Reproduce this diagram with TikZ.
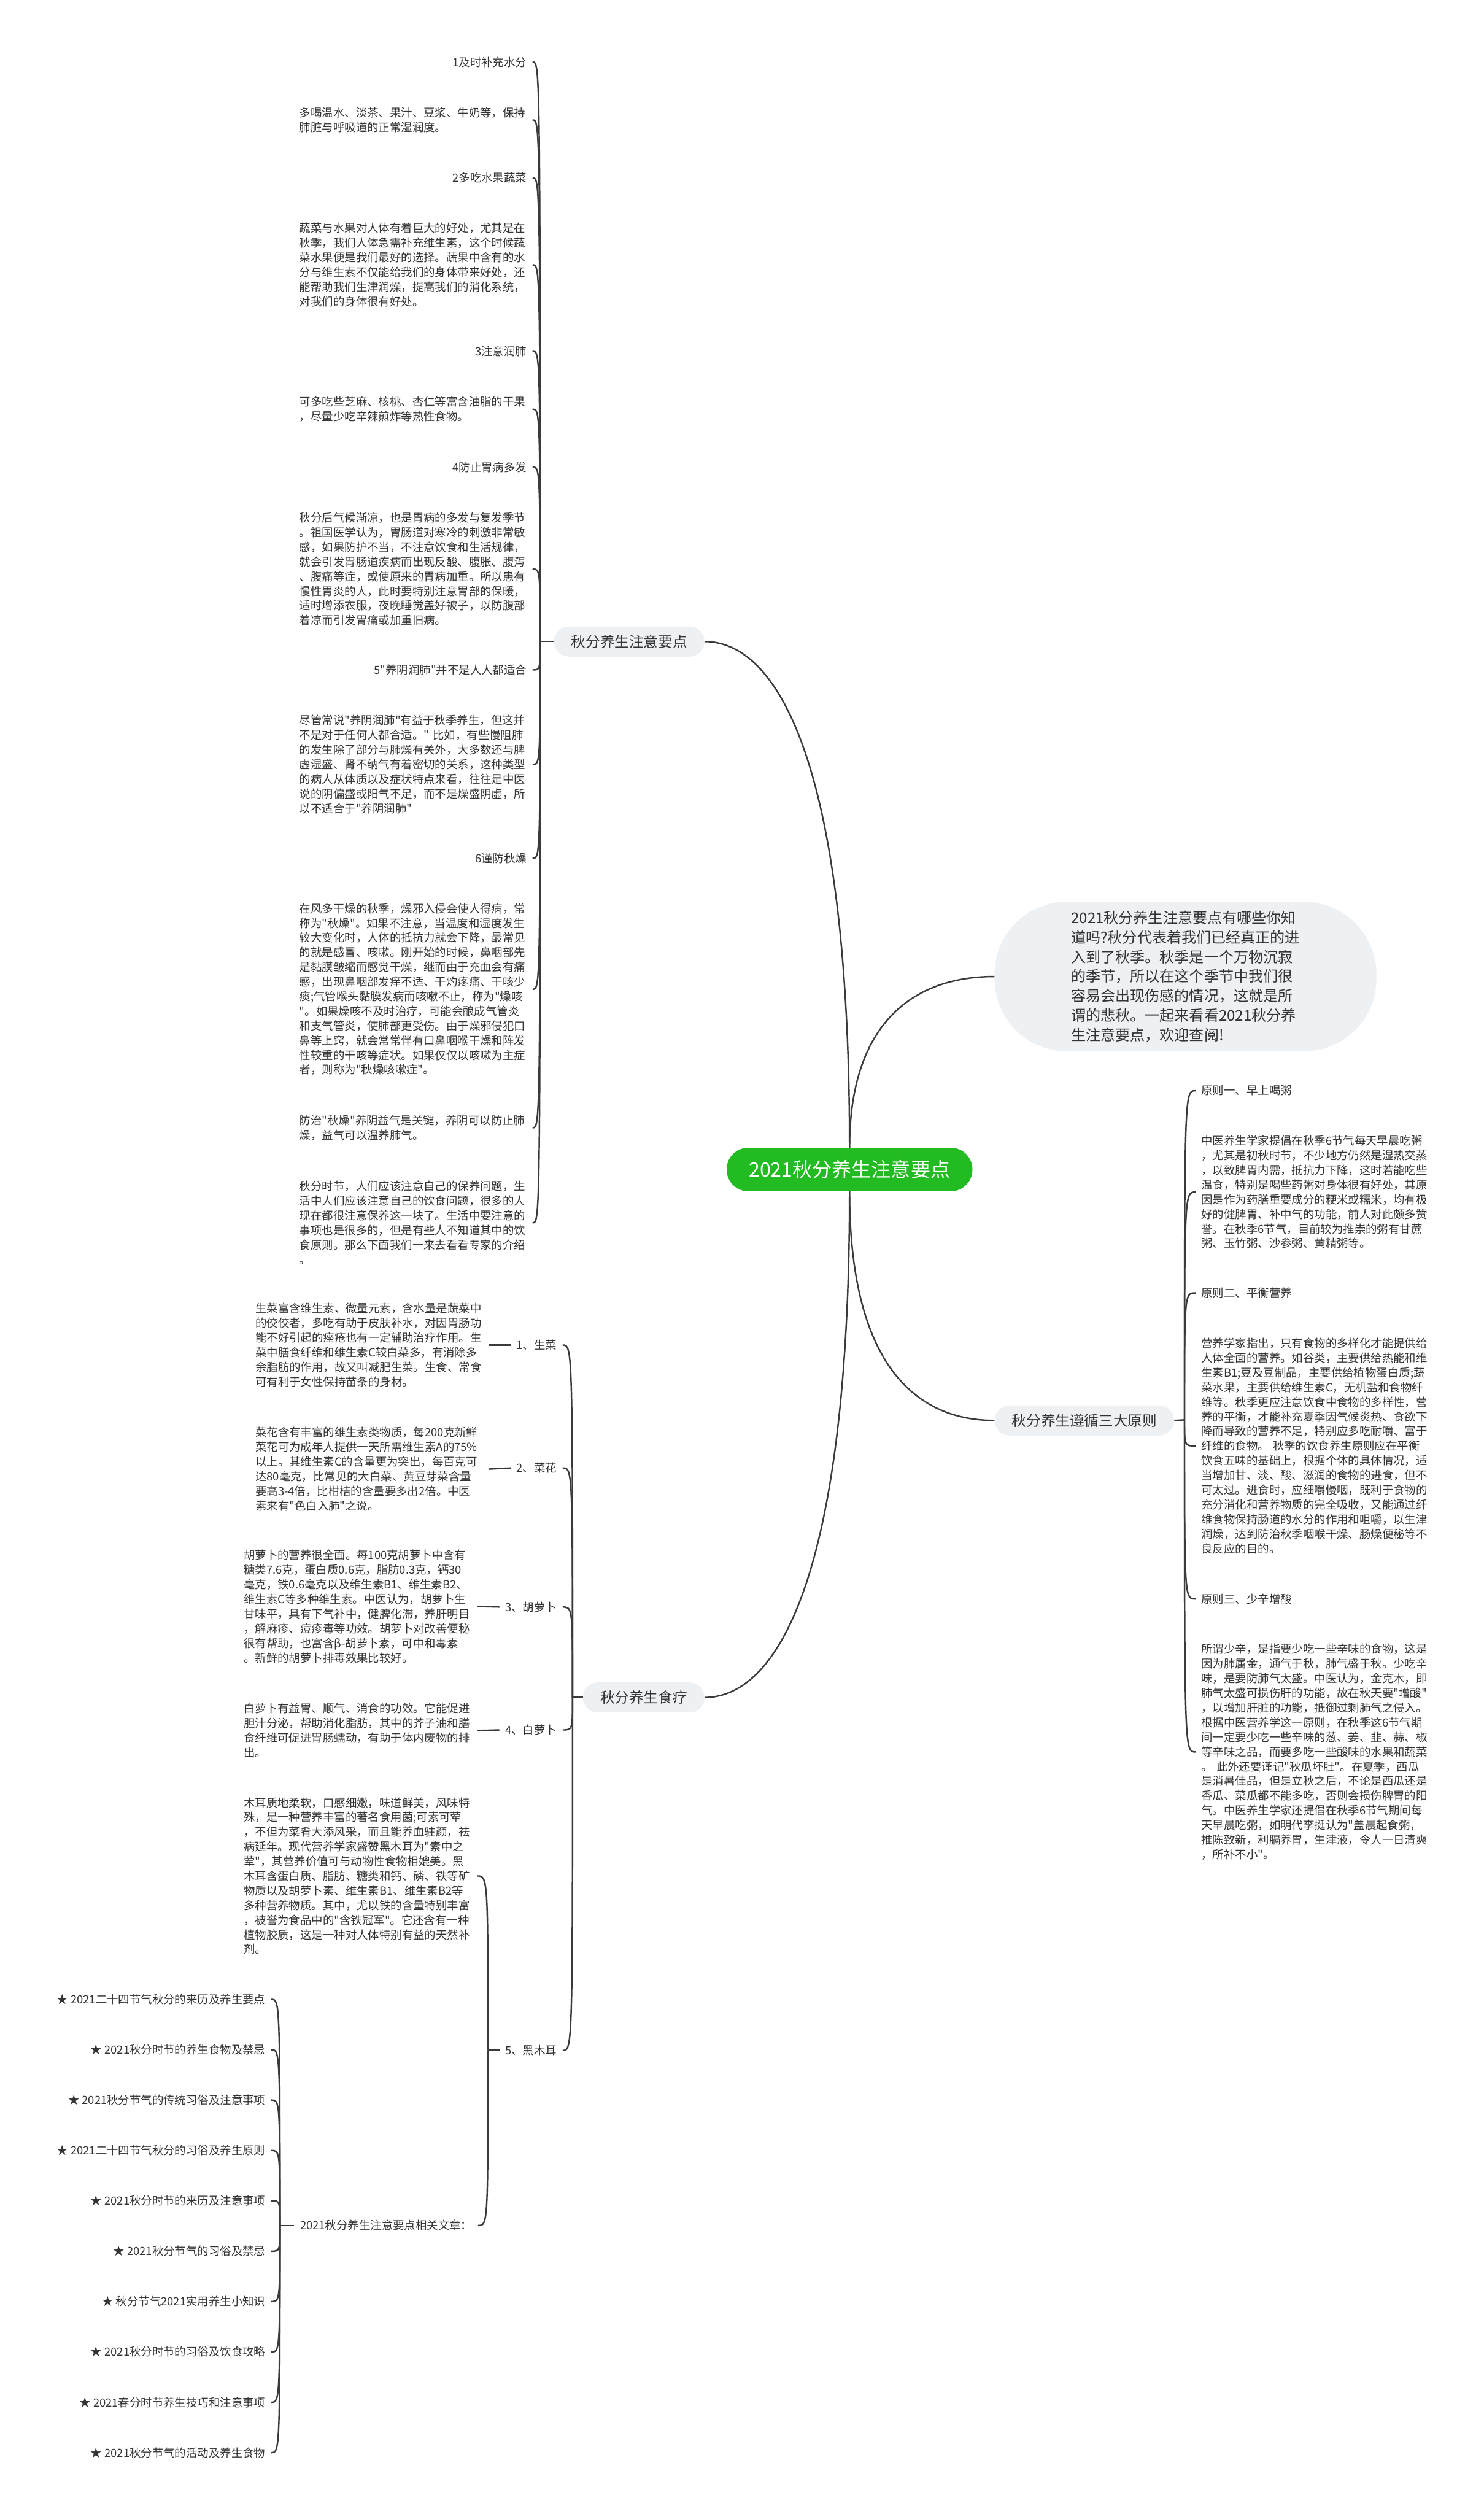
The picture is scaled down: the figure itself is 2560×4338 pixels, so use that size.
\documentclass[tikz,border=0pt]{standalone}
\usepackage{fontspec}
\newfontfamily\cjkfont{Noto Sans CJK SC}
\usepackage{xcolor}
\definecolor{RootGreen}{HTML}{22BC22}
\definecolor{PaleGrayBg}{HTML}{EEF1F4}
\definecolor{InkGray}{HTML}{333333}
\definecolor{LinkGray}{HTML}{3A3A3A}
\usepackage{tikz}
\tikzset{
  mindroot/.style={
    fill=RootGreen,
    text=white,
    rounded corners=37pt,
    minimum width=424pt,
    minimum height=75pt,
    inner sep=0pt,
    font=\cjkfont\fontsize{34pt}{40pt}\selectfont
  },
  mindbranch/.style={
    fill=PaleGrayBg,
    text=InkGray,
    rounded corners=26pt,
    minimum height=52pt,
    inner xsep=30pt,
    font=\cjkfont\fontsize{25pt}{30pt}\selectfont
  },
  mindintro/.style={
    fill=PaleGrayBg,
    text=InkGray,
    rounded corners=125pt,
    minimum width=659pt,
    minimum height=258pt,
    align=left,
    font=\cjkfont\fontsize{25.5pt}{33.8pt}\selectfont
  },
  mindnote/.style={
    text=InkGray,
    text width=392pt,
    align=left,
    inner xsep=10pt,
    inner ysep=4pt,
    font=\cjkfont\fontsize{19.5pt}{25.3pt}\selectfont
  },
  mindlabel/.style={
    text=InkGray,
    inner xsep=10pt,
    inner ysep=4pt,
    font=\cjkfont\fontsize{19.5pt}{25.3pt}\selectfont
  },
  mindline/.style={
    draw=LinkGray,
    line width=2.6pt
  }
}

\begin{document}
\begin{tikzpicture}[x=1pt,y=-1pt]
  \fill[white] (0,0) rectangle (2560,4338);
  \useasboundingbox (0,0) rectangle (2560,4338);
  % centre and first level
  \node[mindroot] (root) at (1466,2018) {2021秋分养生注意要点};
  \node[mindbranch, anchor=east] (care) at (1216,1107) {秋分养生注意要点};
  \node[mindbranch, anchor=east] (diet) at (1216,2929) {秋分养生食疗};
  \node[mindbranch, anchor=west] (rules) at (1716,2451) {秋分养生遵循三大原则};
  \node[mindintro, anchor=west] (intro) at (1716,1685) {2021秋分养生注意要点有哪些你知\\道吗?秋分代表着我们已经真正的进\\入到了秋季。秋季是一个万物沉寂\\的季节，所以在这个季节中我们很\\容易会出现伤感的情况，这就是所\\谓的悲秋。一起来看看2021秋分养\\生注意要点，欢迎查阅!};
  \draw[mindline] (root.north) .. controls +(0,-680) and +(120,0) .. (care.east);
  \draw[mindline] (root.north) .. controls +(0,-220) and +(-135,0) .. (intro.west);
  \draw[mindline] (root.south) .. controls +(0,680) and +(120,0) .. (diet.east);
  \draw[mindline] (root.south) .. controls +(0,300) and +(-135,0) .. (rules.west);

  % left, upper group
  \coordinate (s1) at (932,1107);
  \node[mindlabel, anchor=east] (water) at (919,107) {1及时补充水分};
  \node[mindnote, anchor=east] (waterT) at (919,207) {多喝温水、淡茶、果汁、豆浆、牛奶等，保持\\肺脏与呼吸道的正常湿润度。};
  \node[mindlabel, anchor=east] (fruit) at (919,307) {2多吃水果蔬菜};
  \node[mindnote, anchor=east] (fruitT) at (919,457) {蔬菜与水果对人体有着巨大的好处，尤其是在\\秋季，我们人体急需补充维生素，这个时候蔬\\菜水果便是我们最好的选择。蔬果中含有的水\\分与维生素不仅能给我们的身体带来好处，还\\能帮助我们生津润燥，提高我们的消化系统，\\对我们的身体很有好处。};
  \node[mindlabel, anchor=east] (lung) at (919,606) {3注意润肺};
  \node[mindnote, anchor=east] (lungT) at (919,706) {可多吃些芝麻、核桃、杏仁等富含油脂的干果\\，尽量少吃辛辣煎炸等热性食物。};
  \node[mindlabel, anchor=east] (stomach) at (919,806) {4防止胃病多发};
  \node[mindnote, anchor=east] (stomachT) at (919,982) {秋分后气候渐凉，也是胃病的多发与复发季节\\。祖国医学认为，胃肠道对寒冷的刺激非常敏\\感，如果防护不当，不注意饮食和生活规律，\\就会引发胃肠道疾病而出现反酸、腹胀、腹泻\\、腹痛等症，或使原来的胃病加重。所以患有\\慢性胃炎的人，此时要特别注意胃部的保暖，\\适时增添衣服，夜晚睡觉盖好被子，以防腹部\\着凉而引发胃痛或加重旧病。};
  \node[mindlabel, anchor=east] (yin) at (919,1156) {5"养阴润肺"并不是人人都适合};
  \node[mindnote, anchor=east] (yinT) at (919,1319) {尽管常说"养阴润肺"有益于秋季养生，但这并\\不是对于任何人都合适。"~比如，有些慢阻肺\\的发生除了部分与肺燥有关外，大多数还与脾\\虚湿盛、肾不纳气有着密切的关系，这种类型\\的病人从体质以及症状特点来看，往往是中医\\说的阴偏盛或阳气不足，而不是燥盛阴虚，所\\以不适合于"养阴润肺"};
  \node[mindlabel, anchor=east] (dry) at (919,1481) {6谨防秋燥};
  \node[mindnote, anchor=east] (dryT) at (919,1707) {在风多干燥的秋季，燥邪入侵会使人得病，常\\称为"秋燥"。如果不注意，当温度和湿度发生\\较大变化时，人体的抵抗力就会下降，最常见\\的就是感冒、咳嗽。刚开始的时候，鼻咽部先\\是黏膜皱缩而感觉干燥，继而由于充血会有痛\\感，出现鼻咽部发痒不适、干灼疼痛、干咳少\\痰;气管喉头黏膜发病而咳嗽不止，称为"燥咳\\"。如果燥咳不及时治疗，可能会酿成气管炎\\和支气管炎，使肺部更受伤。由于燥邪侵犯口\\鼻等上窍，就会常常伴有口鼻咽喉干燥和阵发\\性较重的干咳等症状。如果仅仅以咳嗽为主症\\者，则称为"秋燥咳嗽症"。};
  \node[mindnote, anchor=east] (dryKey) at (919,1946) {防治"秋燥"养阴益气是关键，养阴可以防止肺\\燥，益气可以温养肺气。};
  \node[mindnote, anchor=east] (season) at (919,2110) {秋分时节，人们应该注意自己的保养问题，生\\活中人们应该注意自己的饮食问题，很多的人\\现在都很注意保养这一块了。生活中要注意的\\事项也是很多的，但是有些人不知道其中的饮\\食原则。那么下面我们一来去看看专家的介绍\\。};
  \draw[mindline] (care.west) -- (s1);
  \foreach \kid in {water,waterT,fruit,fruitT,lung,lungT,stomach,stomachT,yin,yinT,dry,dryT,dryKey,season}{\draw[mindline] (s1) .. controls (s1 |- \kid.east) .. (\kid.east);}

  % left, lower group
  \coordinate (s2) at (988,2929);
  \node[mindlabel, anchor=east] (lettuce) at (971,2321) {1、生菜};
  \node[mindlabel, anchor=east] (cauli) at (971,2533) {2、菜花};
  \node[mindlabel, anchor=east] (carrot) at (971,2773) {3、胡萝卜};
  \node[mindlabel, anchor=east] (radish) at (971,2985) {4、白萝卜};
  \node[mindlabel, anchor=east] (fungus) at (971,3538) {5、黑木耳};
  \node[mindnote, anchor=east] (lettuceT) at (843,2321) {生菜富含维生素、微量元素，含水量是蔬菜中\\的佼佼者，多吃有助于皮肤补水，对因胃肠功\\能不好引起的痤疮也有一定辅助治疗作用。生\\菜中膳食纤维和维生素C较白菜多，有消除多\\余脂肪的作用，故又叫减肥生菜。生食、常食\\可有利于女性保持苗条的身材。};
  \node[mindnote, anchor=east] (cauliT) at (843,2535) {菜花含有丰富的维生素类物质，每200克新鲜\\菜花可为成年人提供一天所需维生素A的75\%\\以上。其维生素C的含量更为突出，每百克可\\达80毫克，比常见的大白菜、黄豆芽菜含量\\要高3-4倍，比柑桔的含量要多出2倍。中医\\素来有"色白入肺"之说。};
  \node[mindnote, anchor=east] (carrotT) at (823,2772) {胡萝卜的营养很全面。每100克胡萝卜中含有\\糖类7.6克，蛋白质0.6克，脂肪0.3克，钙30\\毫克，铁0.6毫克以及维生素B1、维生素B2、\\维生素C等多种维生素。中医认为，胡萝卜生\\甘味平，具有下气补中，健脾化滞，养肝明目\\，解麻疹、痘疹毒等功效。胡萝卜对改善便秘\\很有帮助，也富含β-胡萝卜素，可中和毒素\\。新鲜的胡萝卜排毒效果比较好。};
  \node[mindnote, anchor=east] (radishT) at (823,2986) {白萝卜有益胃、顺气、消食的功效。它能促进\\胆汁分泌，帮助消化脂肪，其中的芥子油和膳\\食纤维可促进胃肠蠕动，有助于体内废物的排\\出。};
  \node[mindnote, anchor=east] (fungusT) at (823,3237) {木耳质地柔软，口感细嫩，味道鲜美，风味特\\殊，是一种营养丰富的著名食用菌;可素可荤\\，不但为菜肴大添风采，而且能养血驻颜，祛\\病延年。现代营养学家盛赞黑木耳为"素中之\\荤"，其营养价值可与动物性食物相媲美。黑\\木耳含蛋白质、脂肪、糖类和钙、磷、铁等矿\\物质以及胡萝卜素、维生素B1、维生素B2等\\多种营养物质。其中，尤以铁的含量特别丰富\\，被誉为食品中的"含铁冠军"。它还含有一种\\植物胶质，这是一种对人体特别有益的天然补\\剂。};
  \draw[mindline] (diet.west) -- (s2);
  \foreach \kid in {lettuce,cauli,carrot,radish,fungus}{\draw[mindline] (s2) .. controls (s2 |- \kid.east) .. (\kid.east);}
  \foreach \kid in {lettuce,cauli,carrot,radish}{\draw[mindline] (\kid T.east) -- (\kid.west);}

  % related articles
  \coordinate (s4) at (842,3538);
  \coordinate (s5) at (483,3840);
  \node[mindlabel, anchor=east] (related) at (825,3840) {2021秋分养生注意要点相关文章：};
  \draw[mindline] (fungus.west) -- (s4);
  \draw[mindline] (s4) .. controls (s4 |- fungusT.east) .. (fungusT.east);
  \draw[mindline] (s4) .. controls (s4 |- related.east) .. (related.east);
  \draw[mindline] (related.west) -- (s5);
  \foreach \ttl [count=\i] in {2021二十四节气秋分的来历及养生要点,2021秋分时节的养生食物及禁忌,2021秋分节气的传统习俗及注意事项,2021二十四节气秋分的习俗及养生原则,2021秋分时节的来历及注意事项,2021秋分节气的习俗及禁忌,秋分节气2021实用养生小知识,2021秋分时节的习俗及饮食攻略,2021春分时节养生技巧和注意事项,2021秋分节气的活动及养生食物}{%
    \node[mindlabel, anchor=east] (art\i) at (468,{3450+86.9*(\i-1)}) {★ \ttl};
    \draw[mindline] (s5) .. controls (s5 |- art\i.east) .. (art\i.east);
  }

  % right group
  \coordinate (s3) at (2044,2450);
  \node[mindlabel, anchor=west] (ruleA) at (2063,1882) {原则一、早上喝粥};
  \node[mindnote, anchor=west] (ruleAT) at (2063,2057) {中医养生学家提倡在秋季6节气每天早晨吃粥\\，尤其是初秋时节，不少地方仍然是湿热交蒸\\，以致脾胃内需，抵抗力下降，这时若能吃些\\温食，特别是喝些药粥对身体很有好处，其原\\因是作为药膳重要成分的粳米或糯米，均有极\\好的健脾胃、补中气的功能，前人对此颇多赞\\誉。在秋季6节气，目前较为推崇的粥有甘蔗\\粥、玉竹粥、沙参粥、黄精粥等。};
  \node[mindlabel, anchor=west] (ruleB) at (2063,2231) {原则二、平衡营养};
  \node[mindnote, anchor=west] (ruleBT) at (2063,2495) {营养学家指出，只有食物的多样化才能提供给\\人体全面的营养。如谷类，主要供给热能和维\\生素B1;豆及豆制品，主要供给植物蛋白质;蔬\\菜水果，主要供给维生素C，无机盐和食物纤\\维等。秋季更应注意饮食中食物的多样性，营\\养的平衡，才能补充夏季因气候炎热、食欲下\\降而导致的营养不足，特别应多吃耐嚼、富于\\纤维的食物。~秋季的饮食养生原则应在平衡\\饮食五味的基础上，根据个体的具体情况，适\\当增加甘、淡、酸、滋润的食物的进食，但不\\可太过。进食时，应细嚼慢咽，既利于食物的\\充分消化和营养物质的完全吸收，又能通过纤\\维食物保持肠道的水分的作用和咀嚼，以生津\\润燥，达到防治秋季咽喉干燥、肠燥便秘等不\\良反应的目的。};
  \node[mindlabel, anchor=west] (ruleC) at (2063,2759) {原则三、少辛增酸};
  \node[mindnote, anchor=west] (ruleCT) at (2063,3023) {所谓少辛，是指要少吃一些辛味的食物，这是\\因为肺属金，通气于秋，肺气盛于秋。少吃辛\\味，是要防肺气太盛。中医认为，金克木，即\\肺气太盛可损伤肝的功能，故在秋天要"增酸"\\，以增加肝脏的功能，抵御过剩肺气之侵入。\\根据中医营养学这一原则，在秋季这6节气期\\间一定要少吃一些辛味的葱、姜、韭、蒜、椒\\等辛味之品，而要多吃一些酸味的水果和蔬菜\\。~此外还要谨记"秋瓜坏肚"。在夏季，西瓜\\是消暑佳品，但是立秋之后，不论是西瓜还是\\香瓜、菜瓜都不能多吃，否则会损伤脾胃的阳\\气。中医养生学家还提倡在秋季6节气期间每\\天早晨吃粥，如明代李挺认为"盖晨起食粥，\\推陈致新，利膈养胃，生津液，令人一日清爽\\，所补不小"。};
  \draw[mindline] (rules.east) -- (s3);
  \foreach \kid in {ruleA,ruleAT,ruleB,ruleBT,ruleC,ruleCT}{\draw[mindline] (s3) .. controls (s3 |- \kid.west) .. (\kid.west);}
\end{tikzpicture}
\end{document}
